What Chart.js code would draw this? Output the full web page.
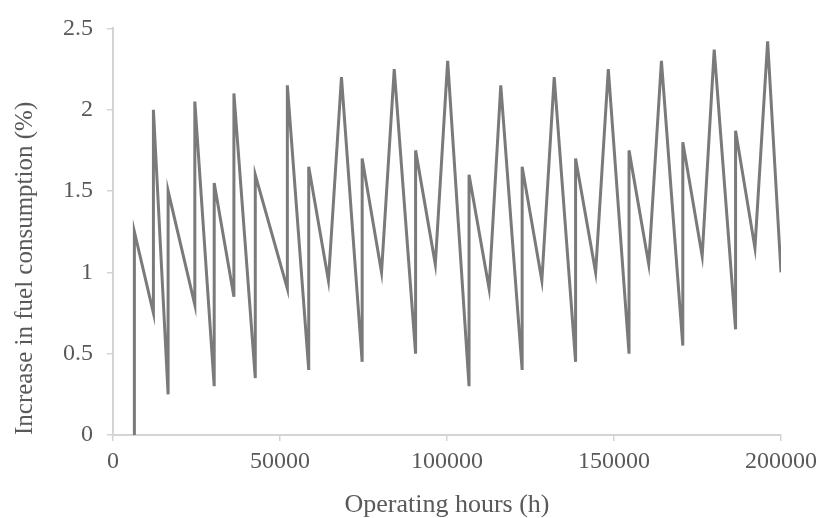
<!DOCTYPE html>
<html>
<head>
<meta charset="utf-8">
<script src="https://cdn.jsdelivr.net/npm/chart.js@4/dist/chart.umd.min.js"></script>
<style>
  body { margin: 0; background: #fff; }
  #wrap { width: 824px; height: 518px; }
</style>
</head>
<body>
<div id="wrap"><canvas id="grafico" width="824" height="518"></canvas></div>
<script>
const horas = [6400, 6400, 12100, 12100, 16500, 16500, 24500, 24500, 30300, 30300,
  36200, 36200, 42600, 42600, 52200, 52200, 58600, 58600, 64500, 68400,
  74600, 74600, 80400, 84200, 90600, 90600, 96500, 100200, 106600, 106600,
  112600, 116100, 122500, 122500, 128400, 132100, 138500, 138500, 144500, 148300,
  154500, 154500, 160400, 164200, 170600, 170600, 176400, 180000, 186400, 186400,
  192200, 196000, 200000]
const aumento = [0, 1.25, 0.75, 2.0, 0.25, 1.5, 0.8, 2.05, 0.3, 1.55,
  0.85, 2.1, 0.35, 1.6, 0.9, 2.15, 0.4, 1.65, 0.95, 2.2,
  0.45, 1.7, 1.0, 2.25, 0.5, 1.75, 1.05, 2.3, 0.3, 1.6,
  0.9, 2.15, 0.4, 1.65, 0.95, 2.2, 0.45, 1.7, 1.0, 2.25,
  0.5, 1.75, 1.05, 2.3, 0.55, 1.8, 1.1, 2.37, 0.65, 1.87,
  1.15, 2.42, 1.0]
const xTicks = [0, 50000, 100000, 150000, 200000]
const yTicks = [0, 0.5, 1, 1.5, 2, 2.5]

const serif = "'Liberation Serif', 'Times New Roman', serif"
const fonte = { family: serif, size: 24 }
const cinza = '#595959'

new Chart(document.getElementById('grafico'), {
  type: 'scatter',
  data: {
    datasets: [{
      label: 'Increase in fuel consumption',
      data: horas.map((h, i) => ({ x: h, y: aumento[i] })),
      showLine: true,
      borderColor: '#7a7a7a',
      borderWidth: 3,
      pointRadius: 0,
      tension: 0
    }]
  },
  options: {
    responsive: false,
    animation: false,
    layout: { padding: { top: 25, right: 43, left: 0, bottom: 0 } },
    plugins: { legend: { display: false }, tooltip: { enabled: false } },
    scales: {
      x: {
        type: 'linear',
        min: xTicks[0],
        max: xTicks[xTicks.length - 1],
        afterBuildTicks: s => { s.ticks = xTicks.map(v => ({ value: v })) },
        afterFit: s => { s.height = 83 },
        border: { color: '#d4d4d4', width: 2 },
        grid: { drawOnChartArea: false, color: '#d4d4d4', tickLength: 6, lineWidth: 1.5 },
        ticks: { color: cinza, font: fonte, padding: 6, maxRotation: 0, autoSkip: false, callback: v => String(v) },
        title: { display: true, text: 'Operating hours (h)', color: cinza, font: { family: serif, size: 26 }, padding: { top: 0, bottom: -3 } }
      },
      y: {
        type: 'linear',
        min: yTicks[0],
        max: yTicks[yTicks.length - 1],
        afterBuildTicks: s => { s.ticks = yTicks.map(v => ({ value: v })) },
        afterFit: s => { s.width = 113 },
        border: { color: '#d4d4d4', width: 2 },
        grid: { drawOnChartArea: false, color: '#d4d4d4', tickLength: 6, lineWidth: 1.5 },
        ticks: { color: cinza, font: fonte, padding: 14, callback: v => String(v) },
        title: { display: true, text: 'Increase in fuel consumption (%)', align: 'start', color: cinza, font: { family: serif, size: 25 }, padding: { top: 10, bottom: 0 } }
      }
    }
  }
})
</script>
</body>
</html>
